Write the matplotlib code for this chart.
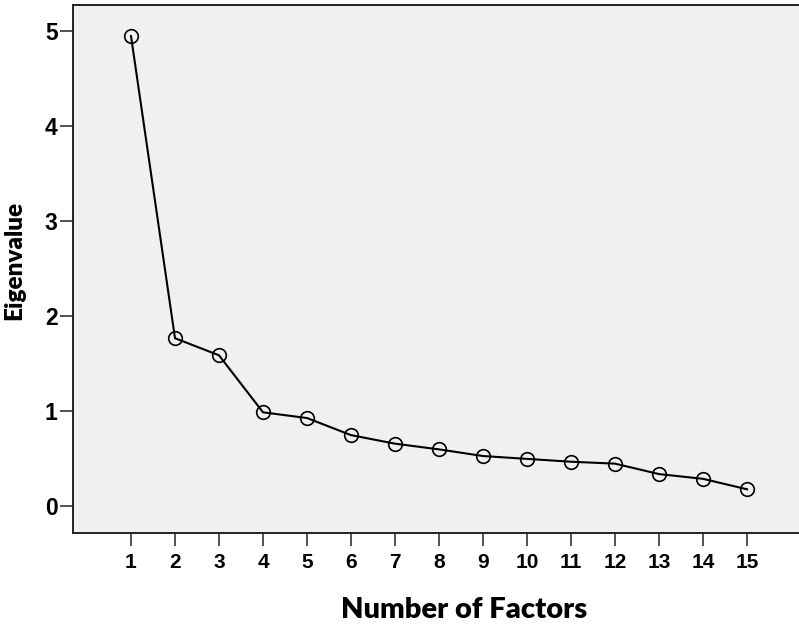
import numpy as np
import matplotlib
matplotlib.use("Agg")
import matplotlib.pyplot as plt

# scree plot values
factors = np.arange(1, 16)
eigenvalues = [4.95, 1.77, 1.59, 0.99, 0.93, 0.75, 0.66, 0.60,
               0.53, 0.50, 0.47, 0.45, 0.34, 0.29, 0.18]
x_ticks = list(range(1, 16))
y_ticks = [0, 1, 2, 3, 4, 5]

fig = plt.figure(figsize=(7.99, 6.26), dpi=100)
ax = fig.add_axes([73 / 799, 93 / 626, (799 - 73) / 799, (533 - 4.7) / 626])
ax.set_facecolor('#f0f0f0')

ax.plot(factors, eigenvalues, color='black', lw=1.5, marker='o', ms=9.8,
        mfc='none', mec='black', mew=1.2)

ax.set_xlim(-0.318, 16.18)
ax.set_ylim(-0.28, 5.28)
ax.set_xticks(x_ticks)
ax.set_yticks(y_ticks)

for side in ['left', 'top', 'bottom']:
    ax.spines[side].set_linewidth(1.4)
    ax.spines[side].set_color('#222222')
ax.spines['right'].set_visible(False)

ax.tick_params(axis='both', length=9.5, width=1.1, color='#222222')
ax.tick_params(axis='y', pad=1.5)
ax.tick_params(axis='x', pad=5)
for lab in ax.get_yticklabels():
    lab.set_fontfamily('Liberation Sans')
    lab.set_fontweight('bold')
    lab.set_fontsize(16.5)
for lab in ax.get_xticklabels():
    lab.set_fontfamily('Liberation Sans')
    lab.set_fontweight('bold')
    lab.set_fontsize(15)

fig.text(14 / 799, 1 - 260 / 626, 'Eigenvalue', rotation=90, ha='center', va='center',
         fontfamily='Lato', fontweight='heavy', fontsize=17.5)
fig.text(464 / 799, 1 - 610 / 626, 'Number of Factors', ha='center', va='center',
         fontfamily='Lato', fontweight='heavy', fontsize=21)

fig.savefig('out.png', dpi=100)
